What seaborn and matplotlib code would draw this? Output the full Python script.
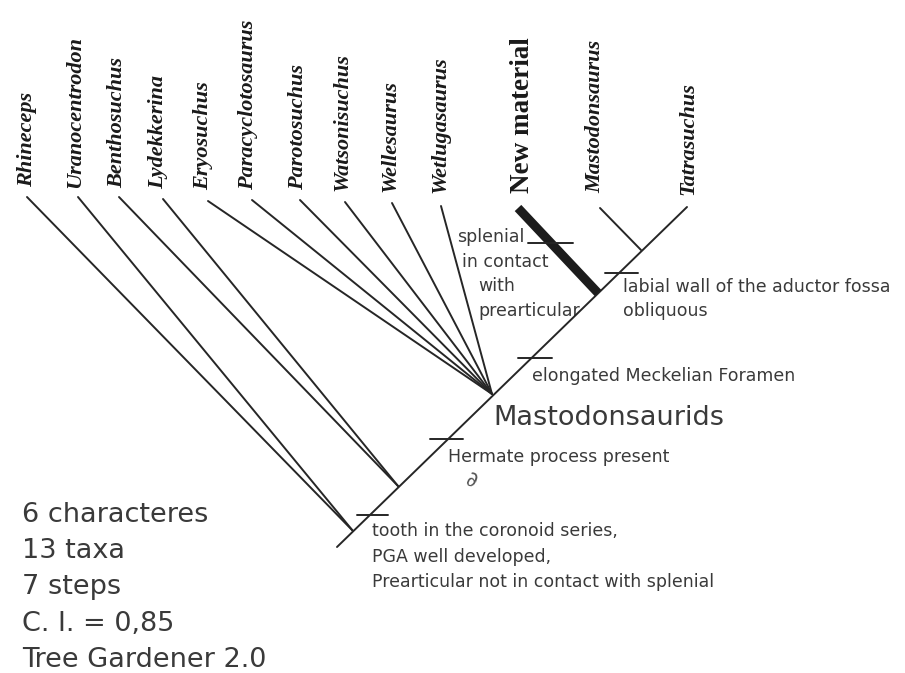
import matplotlib
matplotlib.use("Agg")
import matplotlib.pyplot as plt
import seaborn as sns
import pandas as pd

# Terminal taxa and where their branches end (drawing units: pixels, y downwards)
taxa = ["Rhineceps", "Uranocentrodon", "Benthosuchus", "Lydekkerina", "Eryosuchus",
        "Paracyclotosaurus", "Parotosuchus", "Watsonisuchus", "Wellesaurus",
        "Wetlugasaurus", "New material", "Mastodonsaurus", "Tatrasuchus"]
tip_x = [27, 78, 119, 163, 208, 252, 300, 345, 392, 441, 518, 600, 687]
tip_y = [197, 197, 197, 199, 201, 200, 200, 202, 203, 206, 208, 208, 207]
label_x = [27, 75, 117, 158, 203, 248, 298, 342, 390, 440, 522, 595, 688]
label_y = [187, 188, 188, 189, 190, 190, 190, 191, 192, 193, 193, 193, 195]
# index of the internal node each taxon joins
parent = [0, 0, 1, 1, 2, 2, 2, 2, 2, 2, 3, 4, 4]

# Internal nodes along the backbone
node_x = [353, 398, 492, 598, 641]
node_y = [531, 486, 394, 293, 250]
root = (337, 547)

# Synapomorphy bars (left x, right x, y)
bar_x0 = [357, 430, 518, 605, 528]
bar_x1 = [388, 463, 552, 638, 573]
bar_y = [515, 439, 358, 273, 243]

stats = ["6 characteres", "13 taxa", "7 steps", "C. I. = 0,85", "Tree Gardener 2.0"]

sns.set_theme(style="white")
plt.rcParams["font.family"] = ["DejaVu Sans"]

fig = plt.figure(figsize=(9.05, 6.73), dpi=100)
ax = fig.add_axes([0, 0, 1, 1])
ax.set_xlim(0, 905)
ax.set_ylim(673, 0)
ax.axis("off")

ink = "#262626"

# Segment table: backbone plus each terminal branch
rows = []
seg = 0
rows += [(seg, root[0], root[1]), (seg, tip_x[-1], tip_y[-1])]
for i, name in enumerate(taxa):
    if name in ("New material", "Tatrasuchus"):
        continue
    seg += 1
    p = parent[i]
    rows += [(seg, tip_x[i], tip_y[i]), (seg, node_x[p], node_y[p])]
segs = pd.DataFrame(rows, columns=["seg", "x", "y"])
sns.lineplot(data=segs, x="x", y="y", units="seg", estimator=None, sort=False,
             color=ink, linewidth=1.4, ax=ax)

# New material branch drawn heavy
nm = taxa.index("New material")
heavy = pd.DataFrame({"x": [tip_x[nm], node_x[parent[nm]]],
                      "y": [tip_y[nm], node_y[parent[nm]]]})
sns.lineplot(data=heavy, x="x", y="y", estimator=None, sort=False,
             color="#1c1c1c", linewidth=6.5, ax=ax, solid_capstyle="butt", zorder=3)

# Character bars
for x0, x1, y in zip(bar_x0, bar_x1, bar_y):
    ax.plot([x0, x1], [y, y], color=ink, linewidth=1.4, zorder=3)

# Taxon labels
for i, name in enumerate(taxa):
    if name == "New material":
        ax.text(label_x[i], label_y[i], name, rotation=90, ha="center", va="bottom",
                family="Liberation Serif", fontweight="bold", fontsize=19.5, color="#1a1a1a")
    else:
        ax.text(label_x[i], label_y[i], name, rotation=90, ha="center", va="bottom",
                family="Liberation Serif", fontweight="bold", style="italic",
                fontsize=16, color="#1a1a1a")

txt = "#3a3a3a"
fs = 12.5
ax.text(457, 237, "splenial", fontsize=fs, color=txt, va="center")
ax.text(462, 262, "in contact", fontsize=fs, color=txt, va="center")
ax.text(478, 286, "with", fontsize=fs, color=txt, va="center")
ax.text(478, 311, "prearticular", fontsize=fs, color=txt, va="center", zorder=1)
ax.text(623, 287, "labial wall of the aductor fossa", fontsize=fs, color=txt, va="center")
ax.text(623, 311, "obliquous", fontsize=fs, color=txt, va="center")
ax.text(532, 376, "elongated Meckelian Foramen", fontsize=fs, color=txt, va="center")
ax.text(493, 418, "Mastodonsaurids", fontsize=19.5, color=txt, va="center")
ax.text(448, 457, "Hermate process present", fontsize=fs, color=txt, va="center")
ax.text(464, 480, "\u2202", fontsize=15, color="#555555", va="center", rotation=-15)
ax.text(372, 531, "tooth in the coronoid series,", fontsize=fs, color=txt, va="center")
ax.text(372, 557, "PGA well developed,", fontsize=fs, color=txt, va="center")
ax.text(372, 582, "Prearticular not in contact with splenial", fontsize=fs, color=txt, va="center")

for k, line in enumerate(stats):
    ax.text(22, 515 + k * 36.2, line, fontsize=19.5, color=txt, va="center")

fig.savefig("out.png", dpi=100, facecolor="white")
